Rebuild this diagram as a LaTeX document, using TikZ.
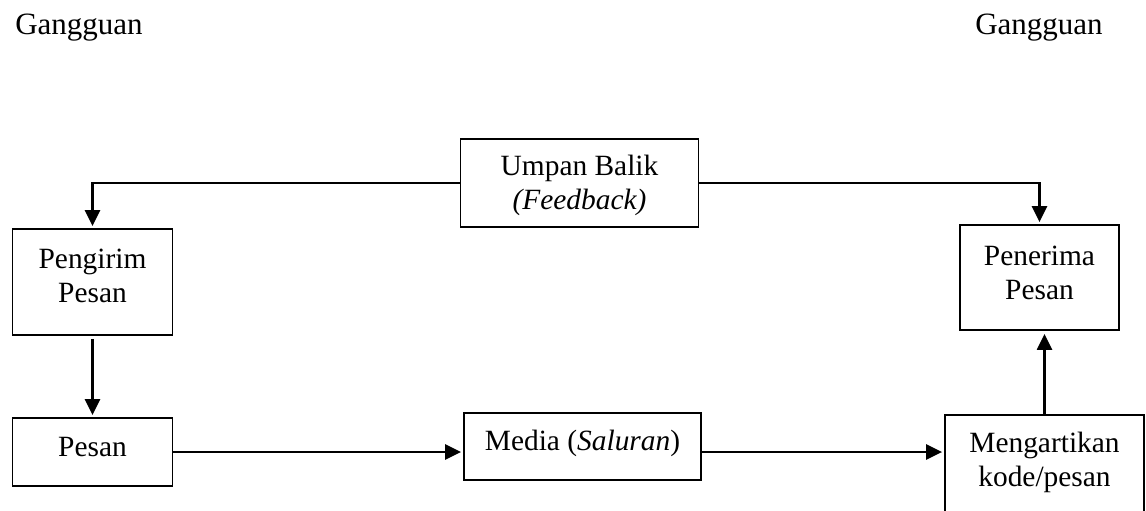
\documentclass[tikz,border=0pt]{standalone}
\usepackage{fontspec}
\setmainfont{Liberation Serif}
\usetikzlibrary{arrows.meta}
\begin{document}
\begin{tikzpicture}[x=0.5pt,y=-0.5pt,
  box/.style={draw=black,line width=0.9pt,rectangle,inner sep=0pt},
  txt/.style={inner sep=0pt,align=center,font=\fontsize{14.7}{17}\selectfont},
  noise/.style={inner sep=0pt,font=\fontsize{15.5}{18}\selectfont},
  conn/.style={line width=1.2pt},
  arr/.style={conn,-{Triangle[length=8pt,width=7.5pt]},shorten >=1pt}]
\useasboundingbox (0,0) rectangle (1146,510);
% noise labels
\node[noise] (g1) at (79,28) {Gangguan};
\node[noise] (g2) at (1039,28) {Gangguan};
% boxes
\node[box,minimum width=119pt,minimum height=44pt] (umpan) at (579.5,183) {};
\node[txt] (umpant) at (579.5,185) {Umpan Balik\\\textit{(Feedback)}};
\node[box,minimum width=80pt,minimum height=53pt] (peng) at (92.5,282) {};
\node[txt] (pengt) at (92.5,275.5) {Pengirim\\Pesan};
\node[box,minimum width=79.5pt,minimum height=52.5pt] (pen) at (1039.5,277.5) {};
\node[txt] (pent) at (1039.5,272.5) {Penerima\\Pesan};
\node[box,minimum width=80pt,minimum height=34pt] (pesan) at (92.5,452) {};
\node[txt] (pesant) at (92.5,447) {Pesan};
\node[box,minimum width=118.5pt,minimum height=33.5pt] (media) at (582.5,446.5) {};
\node[txt] (mediat) at (582.5,443.5) {Media (\textit{Saluran})};
\node[box,minimum width=99.5pt,minimum height=50pt] (meng) at (1044.5,465) {};
\node[txt] (mengt) at (1044.5,462.7) {Mengartikan\\kode/pesan};
% connectors
\draw[arr] (umpan.west) -| (peng.north);
\draw[arr] (umpan.east) -| (pen.north);
\draw[arr,shorten <=1.5pt] (peng.south) -- (pesan.north);
\draw[arr] (pesan.east) -- (pesan.east -| media.west);
\draw[arr] (pesan.east -| media.east) -- (pesan.east -| meng.west);
\draw[arr,shorten >=1.5pt] (meng.north) -- (meng.north |- pen.south);
\end{tikzpicture}
\end{document}
